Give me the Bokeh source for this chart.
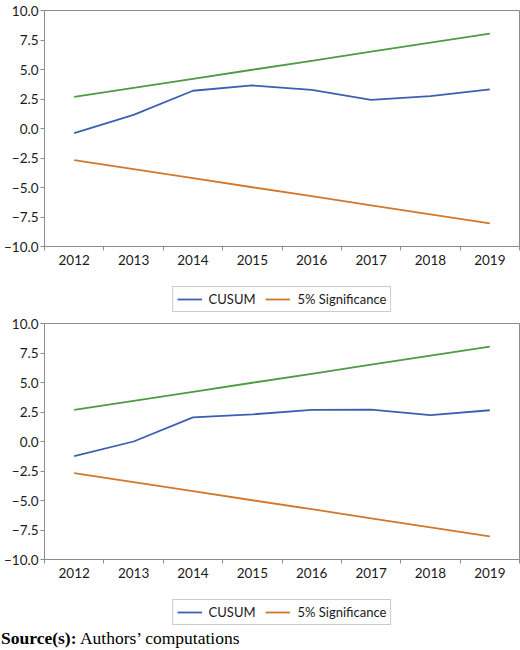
from bokeh.plotting import figure
from bokeh.layouts import column
from bokeh.models import (Range1d, FixedTicker, CustomJSTickFormatter, Legend,
                          LegendItem, ColumnDataSource, Div)
from bokeh.embed import file_html
from bokeh.resources import INLINE

# CUSUM test results, recursive residuals (two model specifications)
years = [2012, 2013, 2014, 2015, 2016, 2017, 2018, 2019]
cusum_model1 = [-0.40, 1.15, 3.20, 3.65, 3.28, 2.43, 2.75, 3.32]
cusum_model2 = [-1.24, 0.00, 2.05, 2.30, 2.68, 2.70, 2.23, 2.65]
# 5% significance bounds
upper_bound = [2.68, 3.45, 4.21, 4.98, 5.74, 6.51, 7.27, 8.04]
lower_bound = [-2.68, -3.45, -4.21, -4.98, -5.74, -6.51, -7.27, -8.04]
y_ticks = [-10.0, -7.5, -5.0, -2.5, 0.0, 2.5, 5.0, 7.5, 10.0]
legend_labels = ["CUSUM", "5% Significance"]

BLUE = "#3d5fb2"
GREEN = "#4f9a45"
ORANGE = "#d2782c"
AXIS_GREY = "#8c8c8c"
TEXT = "#1a1a1a"
FONT = "Lato"


def cusum_panel(cusum):
    p = figure(width=520, height=278, output_backend="svg", toolbar_location=None,
               min_border_left=44, min_border_right=1, min_border_top=10,
               min_border_bottom=32,
               x_range=Range1d(2011.5, 2019.5), y_range=Range1d(-10, 10))
    p.grid.visible = False
    p.outline_line_color = AXIS_GREY
    p.outline_line_width = 1
    p.background_fill_color = "white"
    p.border_fill_color = "white"

    src = ColumnDataSource(dict(year=years, cusum=cusum,
                                upper=upper_bound, lower=lower_bound))
    p.line("year", "upper", source=src, color=GREEN, line_width=1.8)
    p.line("year", "cusum", source=src, color=BLUE, line_width=1.8)
    p.line("year", "lower", source=src, color=ORANGE, line_width=1.8)

    # x axis: labels centred on each year, tick marks between years
    xa = p.xaxis[0]
    xa.ticker = FixedTicker(ticks=years,
                            minor_ticks=[y - 0.5 for y in years] + [years[-1] + 0.5])
    xa.formatter = CustomJSTickFormatter(code="return tick.toFixed(0);")
    xa.major_tick_out = 0
    xa.major_tick_in = 0
    xa.minor_tick_out = 4
    xa.minor_tick_in = 0
    xa.minor_tick_line_color = AXIS_GREY
    xa.axis_line_color = AXIS_GREY
    xa.major_label_standoff = 4
    xa.major_label_text_font = FONT
    xa.major_label_text_font_size = "13.5px"
    xa.major_label_text_color = TEXT

    ya = p.yaxis[0]
    ya.ticker = FixedTicker(ticks=y_ticks, minor_ticks=[])
    ya.formatter = CustomJSTickFormatter(
        code="return (tick < 0 ? '\\u2212' : '') + Math.abs(tick).toFixed(1);")
    ya.major_tick_out = 4
    ya.major_tick_in = 0
    ya.major_tick_line_color = AXIS_GREY
    ya.axis_line_color = AXIS_GREY
    ya.major_label_standoff = 2
    ya.major_label_text_font = FONT
    ya.major_label_text_font_size = "13.5px"
    ya.major_label_text_color = TEXT
    return p


def legend_strip(cusum):
    # strip below each chart holding its legend box; its range lies outside
    # the data, so only the legend entries of these series are visible
    lg = figure(width=520, height=35, output_backend="svg", toolbar_location=None,
                x_axis_location=None, y_axis_location=None,
                min_border_left=44, min_border_right=1, min_border_top=7,
                min_border_bottom=0,
                x_range=Range1d(0, 1), y_range=Range1d(0, 1))
    lg.grid.visible = False
    lg.outline_line_color = None
    lg.border_fill_color = "white"
    r_cu = lg.line(x=years, y=cusum, color=BLUE, line_width=1.8)
    r_lo = lg.line(x=years, y=lower_bound, color=ORANGE, line_width=1.8)
    legend = Legend(items=[LegendItem(label=legend_labels[0], renderers=[r_cu]),
                           LegendItem(label=legend_labels[1], renderers=[r_lo])],
                    location="center", orientation="horizontal",
                    glyph_width=25, glyph_height=16, label_height=16,
                    label_standoff=7, spacing=10, padding=4, margin=0,
                    label_text_font=FONT, label_text_font_size="13px",
                    label_text_color=TEXT,
                    border_line_color="#9a9a9a", border_line_width=1.3,
                    background_fill_color="white", background_fill_alpha=1)
    lg.add_layout(legend, "center")
    return lg


top = cusum_panel(cusum_model1)
bottom = cusum_panel(cusum_model2)

note = Div(text="<b>Source(s):</b> Authors\u2019 computations",
           width=520, height=24, margin=(0, 0, 0, 0),
           styles={"font-family": "'Liberation Serif', serif", "font-size": "17.5px",
                   "color": "black", "line-height": "24px", "padding-left": "1px"})

layout = column(top, legend_strip(cusum_model1), bottom,
                legend_strip(cusum_model2), note, spacing=0)
open("out.html", "w").write(file_html(layout, INLINE))
